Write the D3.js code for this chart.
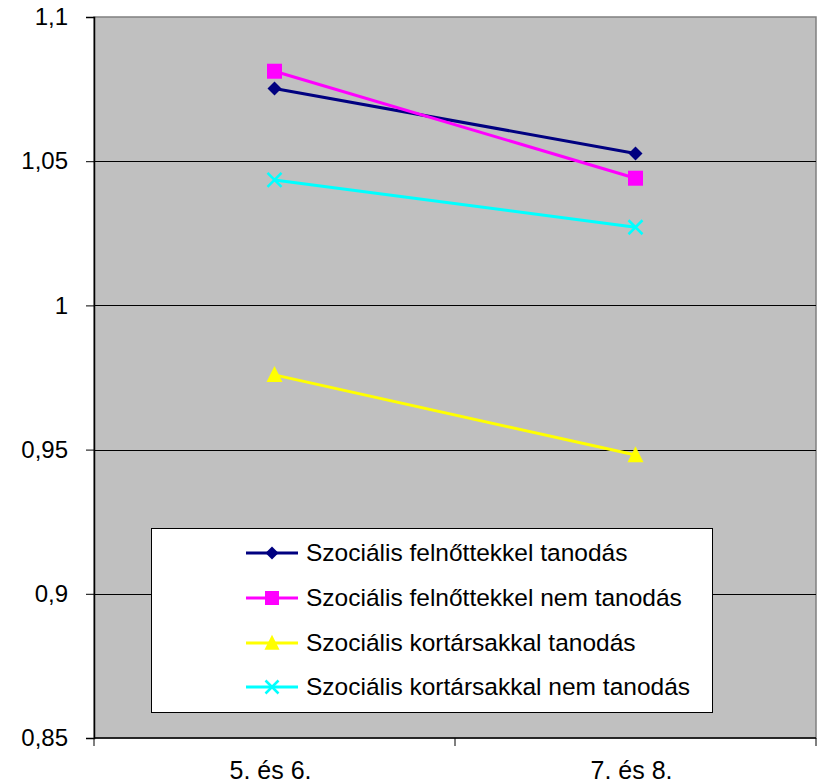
<!DOCTYPE html>
<html>
<head>
<meta charset="utf-8">
<script src="https://cdn.jsdelivr.net/npm/d3@7"></script>
<style>
  html, body { margin: 0; padding: 0; background: #fff; }
  svg { display: block; font-family: Arial, "Liberation Sans", sans-serif; }
</style>
</head>
<body>
<svg id="chart" width="823" height="784"></svg>
<script>
// Categories (school grades) and series values
const categories = ["5. és 6.", "7. és 8."];
const seriesNames = [
  "Szociális felnőttekkel tanodás",
  "Szociális felnőttekkel nem tanodás",
  "Szociális kortársakkal tanodás",
  "Szociális kortársakkal nem tanodás"
];
const felnottTanodas = [1.0752, 1.0527];
const felnottNemTanodas = [1.0812, 1.0441];
const kortarsTanodas = [0.9759, 0.9481];
const kortarsNemTanodas = [1.0435, 1.0271];
const yTicks = [0.85, 0.9, 0.95, 1, 1.05, 1.1];

const seriesValues = [felnottTanodas, felnottNemTanodas, kortarsTanodas, kortarsNemTanodas];
const colors = ["#000080", "#ff00ff", "#ffff00", "#00ffff"];
const markers = ["diamond", "square", "triangle", "cross"];

const svg = d3.select("#chart");
const plot = { left: 94, right: 816, top: 17, bottom: 738 };

const x = d3.scaleBand().domain(categories).range([plot.left, plot.right]).paddingInner(0).paddingOuter(0);
const y = d3.scaleLinear().domain([0.85, 1.1]).range([plot.bottom, plot.top]);

// Plot background
svg.append("rect")
  .attr("x", plot.left).attr("y", plot.top)
  .attr("width", plot.right - plot.left).attr("height", plot.bottom - plot.top)
  .attr("fill", "#c0c0c0").attr("stroke", "#808080").attr("stroke-width", 1.5);

// Horizontal gridlines
svg.append("g").selectAll("line")
  .data(yTicks.filter(d => d > 0.85 && d < 1.1))
  .join("line")
  .attr("x1", plot.left).attr("x2", plot.right)
  .attr("y1", d => Math.round(y(d)) + 0.5).attr("y2", d => Math.round(y(d)) + 0.5)
  .attr("stroke", "#000").attr("stroke-width", 1);

const fmt = d => String(d).replace(".", ",");

// Y axis
const yAxis = svg.append("g")
  .attr("transform", `translate(${plot.left},0)`)
  .call(d3.axisLeft(y).tickValues(yTicks).tickFormat(fmt).tickSize(8).tickPadding(18));
yAxis.select(".domain").attr("stroke", "#000").attr("stroke-width", 1.5);
yAxis.selectAll(".tick line").attr("stroke", "#000");
yAxis.selectAll(".tick text").attr("font-size", 24).attr("fill", "#000")
  .attr("font-family", "Arial, 'Liberation Sans', sans-serif");

// X axis: ticks on band boundaries
const xAxisG = svg.append("g").attr("transform", `translate(0,${plot.bottom})`);
xAxisG.append("line").attr("x1", plot.left).attr("x2", plot.right)
  .attr("y1", 0).attr("y2", 0).attr("stroke", "#000").attr("stroke-width", 1.5);
const bounds = [plot.left, ...categories.map(c => x(c) + x.bandwidth())];
xAxisG.selectAll("line.tk").data(bounds).join("line").attr("class", "tk")
  .attr("x1", d => d).attr("x2", d => d).attr("y1", 0).attr("y2", 8)
  .attr("stroke", "#000");
xAxisG.selectAll("text").data(categories).join("text")
  .attr("x", d => x(d) + x.bandwidth() / 2 - 4).attr("y", 41)
  .attr("text-anchor", "middle").attr("font-size", 25).attr("fill", "#000")
  .text(d => d);

// Marker drawing
function drawMarker(g, type, color, size) {
  const s = size;
  if (type === "diamond") {
    g.append("path").attr("d", `M0,${-s / 2}L${s / 2},0L0,${s / 2}L${-s / 2},0Z`).attr("fill", color);
  } else if (type === "square") {
    g.append("rect").attr("x", -s / 2).attr("y", -s / 2).attr("width", s).attr("height", s).attr("fill", color);
  } else if (type === "triangle") {
    g.append("path").attr("d", `M0,${-s * 0.55}L${s / 2},${s * 0.45}L${-s / 2},${s * 0.45}Z`).attr("fill", color);
  } else if (type === "cross") {
    const h = s / 2;
    g.append("path").attr("d", `M${-h},${-h}L${h},${h}M${-h},${h}L${h},${-h}`)
      .attr("stroke", color).attr("stroke-width", 2.5).attr("fill", "none");
  }
}
const markerSize = { diamond: 14, square: 15, triangle: 16, cross: 14 };

const line = d3.line().x((d, i) => x(categories[i]) + x.bandwidth() / 2).y(d => y(d));

seriesValues.forEach((vals, si) => {
  const g = svg.append("g");
  g.append("path").datum(vals).attr("d", line)
    .attr("fill", "none").attr("stroke", colors[si]).attr("stroke-width", 3);
  vals.forEach((v, i) => {
    const mg = g.append("g").attr("transform", `translate(${x(categories[i]) + x.bandwidth() / 2},${y(v)})`);
    drawMarker(mg, markers[si], colors[si], markerSize[markers[si]]);
  });
});

// Legend
const legend = svg.append("g");
legend.append("rect").attr("x", 151.5).attr("y", 528.5).attr("width", 561).attr("height", 184)
  .attr("fill", "#fff").attr("stroke", "#000").attr("stroke-width", 1);
const rowY = [553, 598, 643, 687];
seriesNames.forEach((name, i) => {
  const row = legend.append("g").attr("transform", `translate(0,${rowY[i]})`);
  row.append("line").attr("x1", 246).attr("x2", 298).attr("y1", 0).attr("y2", 0)
    .attr("stroke", colors[i]).attr("stroke-width", 3);
  const mg = row.append("g").attr("transform", "translate(272,0)");
  drawMarker(mg, markers[i], colors[i], markerSize[markers[i]] - 1);
  row.append("text").attr("x", 306).attr("y", 8).attr("font-size", 24.5).attr("fill", "#000").text(name);
});
</script>
</body>
</html>
